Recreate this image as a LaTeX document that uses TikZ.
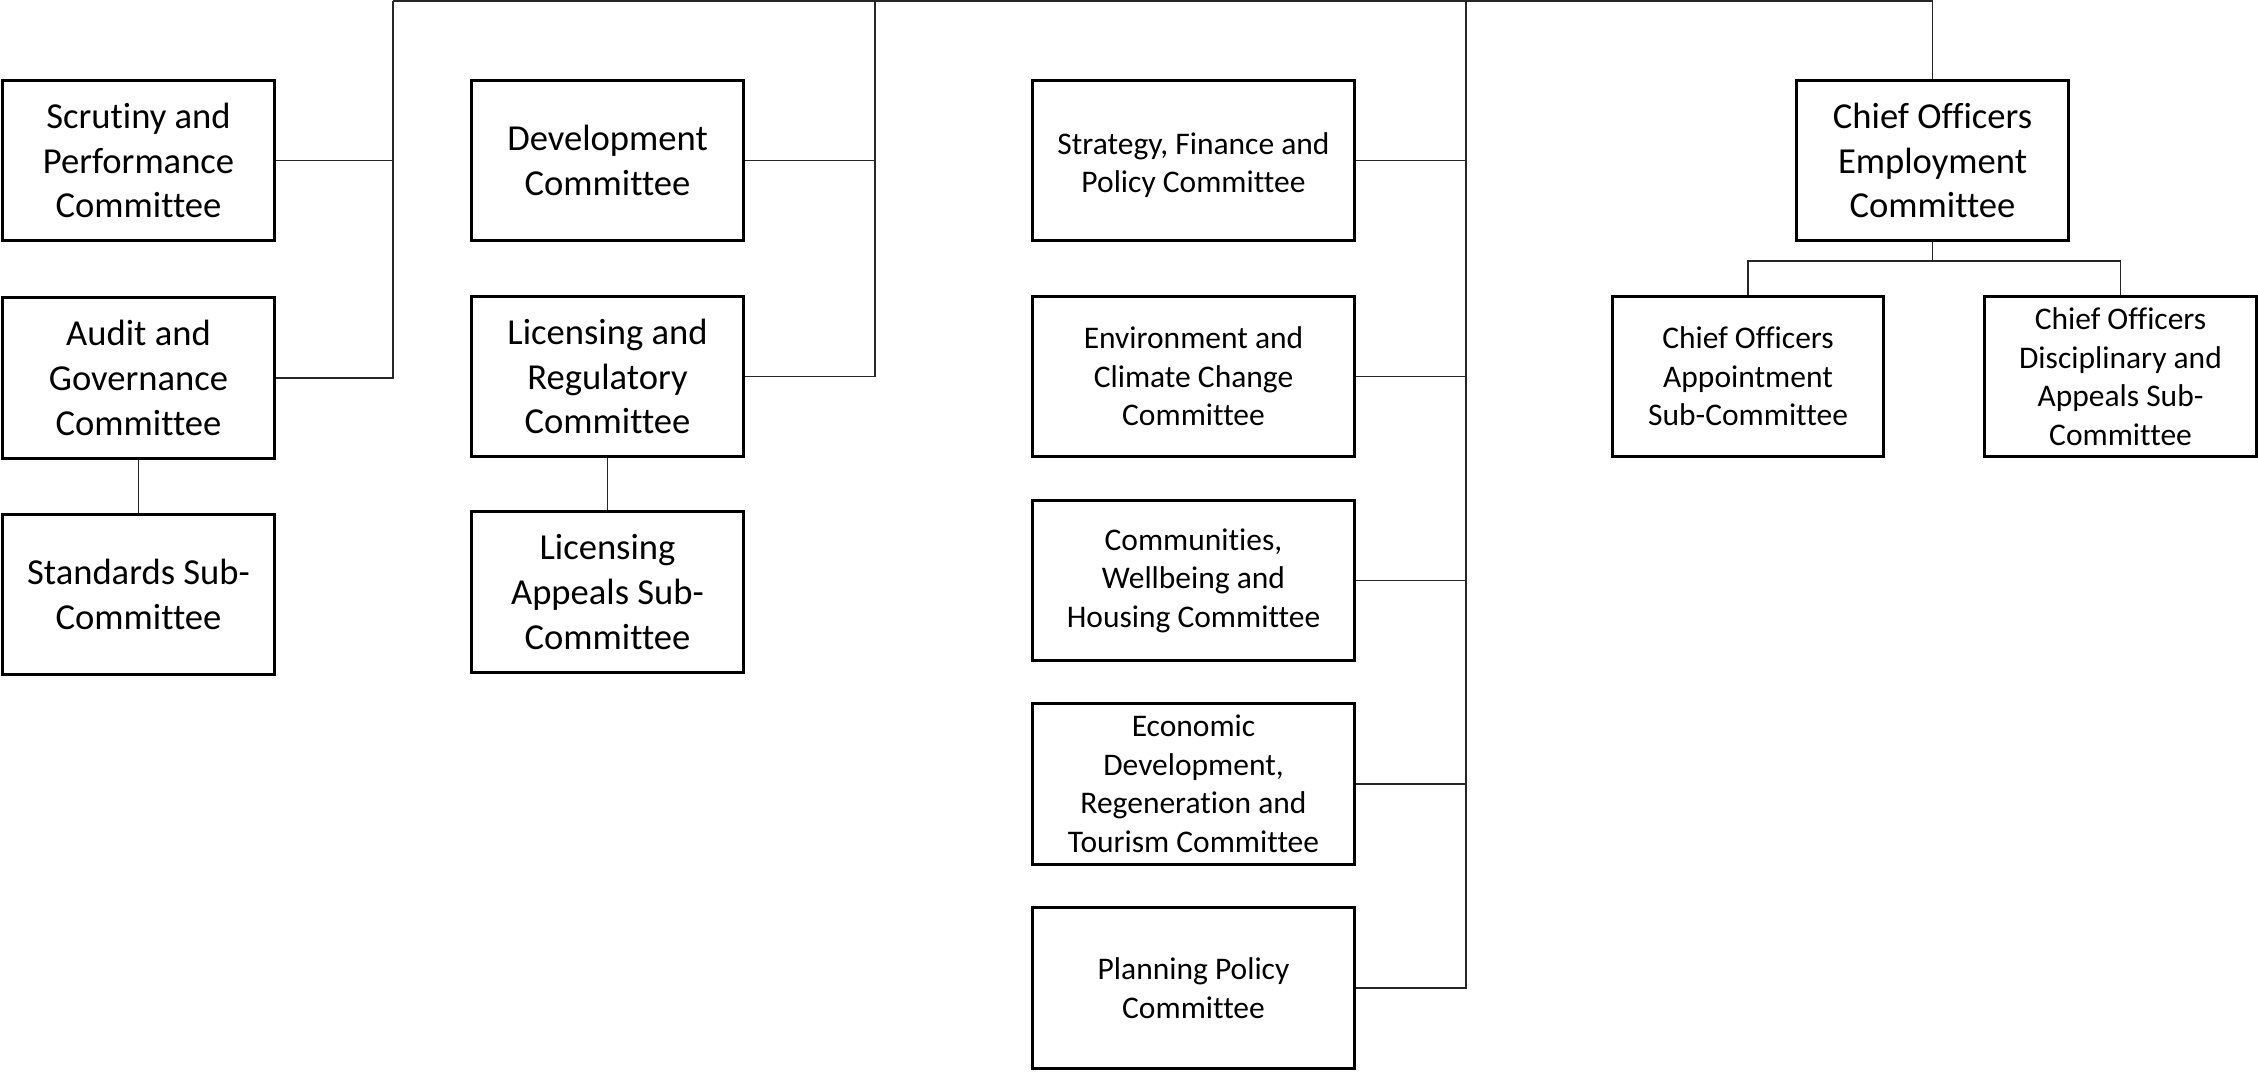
\documentclass[tikz,border=0pt]{standalone}
\usepackage{fontspec}
\setmainfont{Carlito}[Ligatures=NoCommon]
\begin{document}
\begin{tikzpicture}[x=1pt,y=-1pt,
  box/.style={draw=black,line width=2.6pt,fill=white,inner sep=0pt,align=center,
    minimum width=271.5pt,minimum height=160.5pt},
  wide/.style={minimum width=321.5pt},
  big/.style={font=\fontsize{36.6}{44.6}\selectfont},
  small/.style={font=\fontsize{31.5}{38.5}\selectfont},
  link/.style={draw=black!85,line width=1.5pt}]
\useasboundingbox (0,0) rectangle (2258,1071);

% left column
\node[box,big] (scr) at (138.5,160.5) {Scrutiny and\\Performance\\Committee};
\node[box,big] (aud) at (138.5,378) {Audit and\\Governance\\Committee};
\node[box,big] (std) at (138.5,594.5) {Standards Sub-\\Committee};

% second column
\node[box,big] (dev) at (607.5,160.5) {Development\\Committee};
\node[box,big] (lic) at (607.5,376.5) {Licensing and\\Regulatory\\Committee};
\node[box,big] (lap) at (607.5,592) {Licensing\\Appeals Sub-\\Committee};

% third column
\node[box,wide,small] (sfp) at (1193.5,160.5) {\rule{0pt}{31pt}Strategy, Finance and\\Policy Committee};
\node[box,wide,small] (ecc) at (1193.5,376.5) {Environment and\\Climate Change\\Committee};
\node[box,wide,small] (cwh) at (1193.5,580.5) {Communities,\\Wellbeing and\\Housing Committee};
\node[box,wide,small] (edr) at (1193.5,784) {Economic\\Development,\\Regeneration and\\Tourism Committee};
\node[box,wide,small] (ppc) at (1193.5,988) {Planning Policy\\Committee};

% chief officers
\node[box,big] (ceo) at (1932.5,160.5) {Chief Officers\\Employment\\Committee};
\node[box,small] (app) at (1748,376.5) {Chief Officers\\Appointment\\Sub-Committee};
\node[box,small] (dis) at (2120.5,376.5) {Chief Officers\\Disciplinary and\\Appeals Sub-\\Committee};

% bus coordinates
\coordinate (top1) at (393,1);
\coordinate (top2) at (875,1);
\coordinate (top3) at (1466,1);
\coordinate (top4) at (1932.5,1);
\coordinate (split) at (1932.5,261);

% top bus
\draw[link] (top1) -- (top4);

% left bus
\draw[link] (top1) |- (aud.east);
\draw[link] (scr.east) -- (scr.east -| top1);
\draw[link] (aud.south) -- (std.north);

% second bus
\draw[link] (top2) |- (lic.east);
\draw[link] (dev.east) -- (dev.east -| top2);
\draw[link] (lic.south) -- (lap.north);

% third bus
\draw[link] (top3) |- (ppc.east);
\foreach \n in {sfp,ecc,cwh,edr}
  \draw[link] (\n.east) -- (\n.east -| top3);

% chief officers branch
\draw[link] (top4) -- (ceo.north);
\draw[link] (ceo.south) -- (split);
\draw[link] (app.north) |- (split) -| (dis.north);
\end{tikzpicture}
\end{document}
